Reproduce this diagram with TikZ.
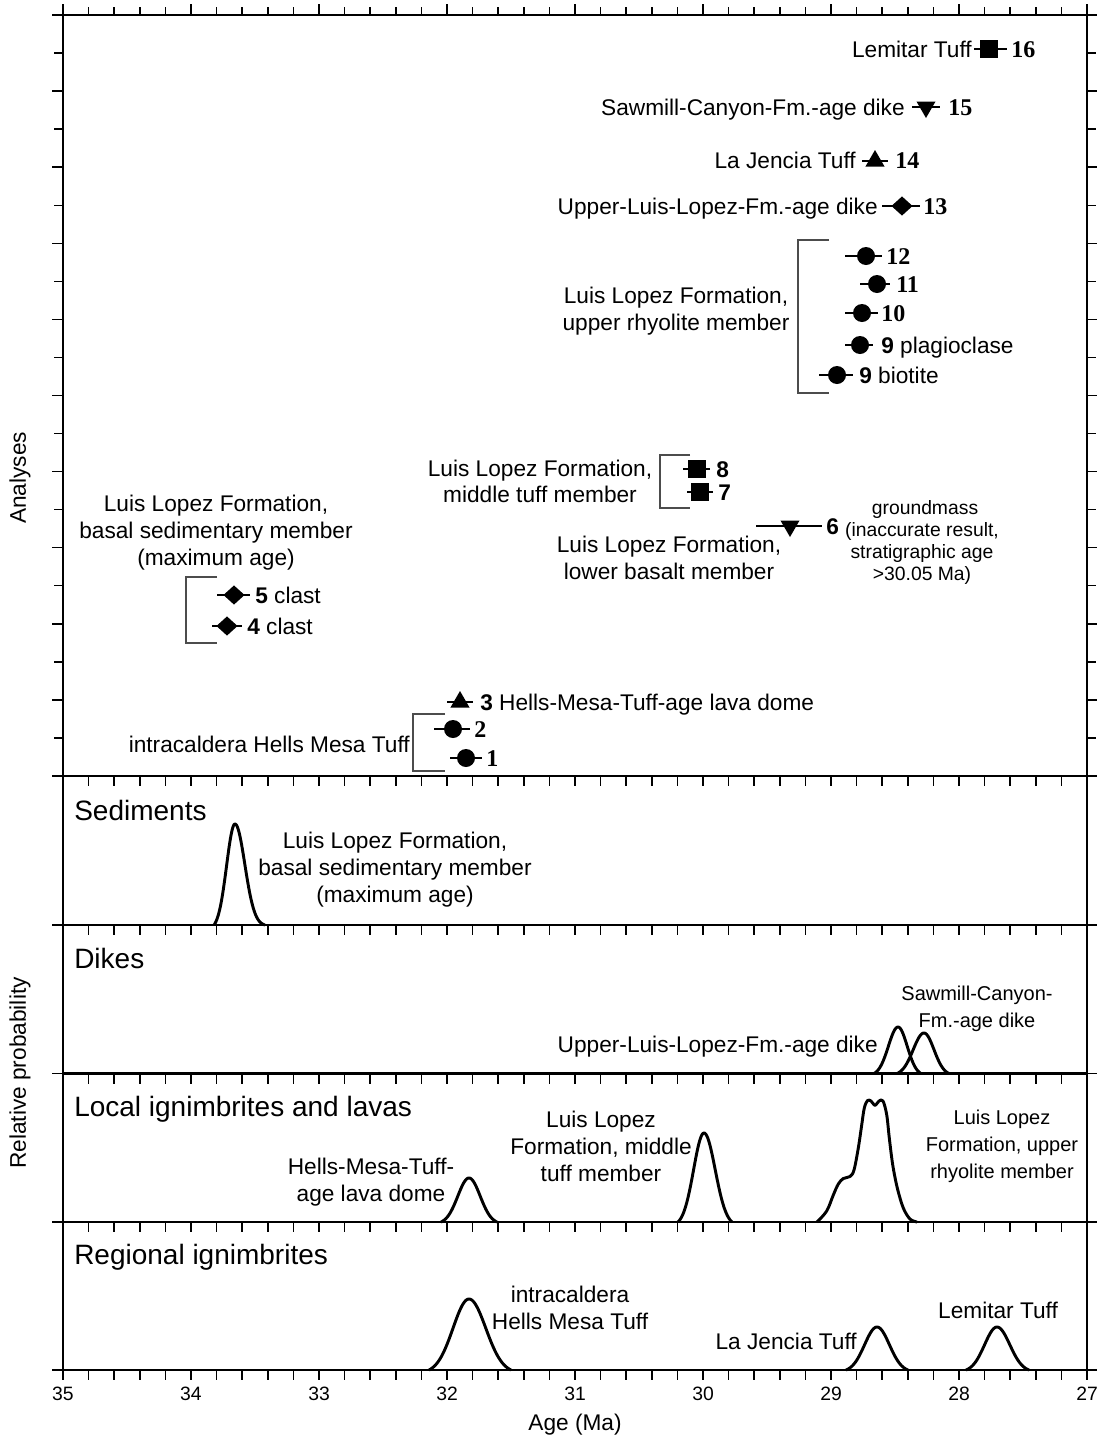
\documentclass[tikz,border=0pt]{standalone}
\usepackage{fontspec}
\setmainfont{Liberation Sans}
\newfontfamily\numserif{Liberation Serif}
\usetikzlibrary{shapes.geometric}
\newcommand{\datapt}[6]{% name, style, x, y, xlo, xhi
  \draw[ebar] (#5,#4) -- (#6,#4);
  \node[#2] (#1) at (#3,#4) {};}
\newcommand{\tgauss}[7]{% x0,h,xL,xR,sL,sR,base
  \draw[curve] plot[domain=#3:#1, samples=40] (\x,{#7-#2*(exp(-0.5*(\x-#1)*(\x-#1)/(#5*#5))-exp(-0.5*(#3-#1)*(#3-#1)/(#5*#5)))/(1-exp(-0.5*(#3-#1)*(#3-#1)/(#5*#5)))})
    -- plot[domain=#1:#4, samples=40] (\x,{#7-#2*(exp(-0.5*(\x-#1)*(\x-#1)/(#6*#6))-exp(-0.5*(#4-#1)*(#4-#1)/(#6*#6)))/(1-exp(-0.5*(#4-#1)*(#4-#1)/(#6*#6)))});}
\begin{document}
\begin{tikzpicture}[x=0.75pt,y=-0.75pt,
  lab/.style={font=\fontsize{17}{20.25}\selectfont, inner sep=0pt, align=center},
  slab/.style={font=\fontsize{15}{19.9}\selectfont, inner sep=0pt, align=center},
  note/.style={font=\fontsize{14.5}{16.2}\selectfont, inner sep=0pt, align=center},
  ttl/.style={font=\fontsize{21}{25}\selectfont, inner sep=0pt, anchor=base west},
  snum/.style={font=\numserif\bfseries\fontsize{18}{20}\selectfont, inner sep=0pt, anchor=base west},
  ticklab/.style={font=\fontsize{14.5}{17}\selectfont, inner sep=0pt, anchor=base},
  axlab/.style={font=\fontsize{17}{20}\selectfont, inner sep=0pt},
  tick/.style={line width=1.1pt},
  frame/.style={line width=1.9pt},
  ebar/.style={line width=2.2pt},
  curve/.style={line width=2.2pt, line join=round},
  brk/.style={line width=0.9pt, draw=black!70},
  dot/.style={circle, fill, inner sep=0pt, minimum size=13.5pt},
  sq/.style={rectangle, fill, inner sep=0pt, minimum size=12.8pt},
  tup/.style={regular polygon, regular polygon sides=3, fill, inner sep=0pt, minimum size=16.5pt},
  tdn/.style={regular polygon, regular polygon sides=3, shape border rotate=180, fill, inner sep=0pt, minimum size=16.5pt},
  dia/.style={diamond, fill, inner sep=0pt, minimum width=16pt, minimum height=14.5pt}
]
\useasboundingbox (0,0) rectangle (1096,1435);
\fill[white] (0,0) rectangle (1096,1435);

% ---------- ticks ----------
\foreach \k in {0,...,40}{
  \pgfmathsetmacro\xx{63+\k*25.6}
  \pgfmathtruncatemacro\mj{mod(\k,5)}
  \ifnum\mj=0 \draw[tick] (\xx,15) -- (\xx,4); \else \draw[tick] (\xx,15) -- (\xx,7); \fi
  \foreach \yb in {776,925,1073.5,1222,1370}{ \draw[tick] (\xx,\yb) -- (\xx,{\yb+10}); }
}
\foreach \k in {0,...,20}{
  \pgfmathsetmacro\yy{15+\k*38.05}
  \ifodd\k \def\tl{9}\else\def\tl{11}\fi
  \draw[tick] (63,\yy) -- ({63-\tl},\yy);
  \draw[tick] (1087,\yy) -- ({1087+\tl},\yy);
}
\foreach \yb in {925,1073.5,1222,1370}{
  \draw[tick] (63,\yb) -- (52,\yb);
  \draw[tick] (1087,\yb) -- (1098,\yb);
}
\foreach \a [count=\i from 0] in {35,34,...,27}{
  \node[ticklab] (t\a) at ({63+\i*128},1400) {\a};
}

% ---------- frame ----------
\draw[frame] (63,15) rectangle (1087,1370);
\foreach \yb in {776,925,1073.5,1222}{ \draw[frame] (63,\yb) -- (1087,\yb); }

% ---------- axis titles ----------
\node[axlab, anchor=base] (xt) at (575,1430) {Age (Ma)};
\node[axlab, rotate=90] (yt1) at (20,478) {Analyses};
\node[axlab, rotate=90] (yt2) at (20,1073) {Relative probability};

% ---------- Analyses panel ----------
\datapt{m16}{sq}{989}{49}{974}{1007}
\node[lab, anchor=base east] (l16) at (972,57) {Lemitar Tuff};
\node[snum] (n16) at (1011,57) {16};

\datapt{m15}{tdn}{926}{107}{912}{940}
\node[lab, anchor=base east] (l15) at (905,115) {Sawmill-Canyon-Fm.-age dike};
\node[snum] (n15) at (948,115) {15};

\datapt{m14}{tup}{875}{161}{862}{888}
\node[lab, anchor=base east] (l14) at (856,168) {La Jencia Tuff};
\node[snum] (n14) at (895,168) {14};

\datapt{m13}{dia}{902}{206}{882}{920}
\node[lab, anchor=base east] (l13) at (878,214) {Upper-Luis-Lopez-Fm.-age dike};
\node[snum] (n13) at (923,214) {13};

\datapt{m12}{dot}{866}{256}{845}{882}
\node[snum] (n12) at (886,264) {12};
\datapt{m11}{dot}{877}{284}{860}{890}
\node[snum] (n11) at (896,292) {11};
\datapt{m10}{dot}{862}{313}{845}{878}
\node[snum] (n10) at (881,321) {10};
\datapt{m9p}{dot}{860}{345}{845}{873}
\node[lab, anchor=base west] (n9p) at (881,353) {\textbf{9} plagioclase};
\datapt{m9b}{dot}{837}{375}{819}{853}
\node[lab, anchor=base west] (n9b) at (859,383) {\textbf{9} biotite};
\draw[brk] (829,240) -- (798,240) -- (798,393) -- (829,393);
\node[lab, anchor=base] (lur) at (676,330) {Luis Lopez Formation,\\upper rhyolite member};

\datapt{m8}{sq}{697}{469}{683}{710}
\node[lab, anchor=base west] (n8) at (716,477) {\textbf{8}};
\datapt{m7}{sq}{700}{492}{687}{713}
\node[lab, anchor=base west] (n7) at (718,500) {\textbf{7}};
\draw[brk] (690,455) -- (660,455) -- (660,508) -- (690,508);
\node[lab, anchor=base, font=\fontsize{17}{19.5}\selectfont] (lmt) at (540,502) {Luis Lopez Formation,\\middle tuff member};

\datapt{m6}{tdn}{790}{526}{756}{822}
\node[lab, anchor=base west] (n6) at (826,534) {\textbf{6}};
\node[note, anchor=base] (gm) at (925,514) {groundmass};
\node[note, anchor=base] (ir) at (922,580) {(inaccurate result,\\stratigraphic age\\{>}30.05 Ma)};
\node[lab, anchor=base] (llb) at (669,579) {Luis Lopez Formation,\\lower basalt member};

\datapt{m5}{dia}{234}{595}{217}{250}
\node[lab, anchor=base west] (n5) at (255,603) {\textbf{5} clast};
\datapt{m4}{dia}{227}{626}{212}{242}
\node[lab, anchor=base west] (n4) at (247,634) {\textbf{4} clast};
\draw[brk] (217,577) -- (186,577) -- (186,643) -- (217,643);
\node[lab, anchor=base] (lbs) at (216,565) {Luis Lopez Formation,\\basal sedimentary member\\(maximum age)};

\datapt{m3}{tup}{460}{702}{447}{473}
\node[lab, anchor=base west] (n3) at (480,710) {\textbf{3} Hells-Mesa-Tuff-age lava dome};
\datapt{m2}{dot}{453}{729}{434}{470}
\node[snum] (n2) at (474,737) {2};
\datapt{m1}{dot}{466}{758}{450}{482}
\node[snum] (n1) at (486,766) {1};
\draw[brk] (445,714) -- (413,714) -- (413,771) -- (445,771);
\node[lab, anchor=base east] (lih) at (410,752) {intracaldera Hells Mesa Tuff};

% ---------- Sediments ----------
\node[ttl] (p1) at (74,820) {Sediments};
\tgauss{235}{101}{214}{265}{8.4}{9.8}{925}
\node[lab, anchor=base] (s1) at (395,902) {Luis Lopez Formation,\\basal sedimentary member\\(maximum age)};

% ---------- Dikes ----------
\node[ttl] (p2) at (74,968) {Dikes};
\tgauss{898}{46.5}{874}{921}{9.6}{9.2}{1073.5}
\tgauss{924}{40.5}{897}{949}{10.8}{10}{1073.5}
\node[lab, anchor=base east] (d1) at (878,1052) {Upper-Luis-Lopez-Fm.-age dike};
\node[slab, anchor=base] (d2) at (977,1027) {Sawmill-Canyon-\\Fm.-age dike};

% ---------- Local ----------
\node[ttl] (p3) at (74,1116) {Local ignimbrites and lavas};
\tgauss{469}{44}{441}{497}{11.2}{11.2}{1222}
\tgauss{704}{89}{678}{732}{10.4}{11.2}{1222}
\draw[curve] plot[smooth, tension=0.55] coordinates {(817,1222) (826.7,1211) (833.3,1195) (838.3,1184) (843.3,1178.5) (850,1176.5) (854,1170) (858.3,1148) (861.7,1125) (864.3,1108) (867.5,1100.5) (871,1101) (875,1105.3) (879,1101) (883,1101) (886.7,1114.7) (889.3,1138) (892.7,1164.7) (897.3,1188) (903.3,1208) (910,1219) (917,1222)};
\node[lab, anchor=base] (c1) at (371,1201) {Hells-Mesa-Tuff-\\age lava dome};
\node[lab, anchor=base] (c2) at (601,1181) {Luis Lopez\\Formation, middle\\tuff member};
\node[slab, anchor=base] (c3) at (1002,1178) {Luis Lopez\\Formation, upper\\rhyolite member};

% ---------- Regional ----------
\node[ttl] (p4) at (74,1264) {Regional ignimbrites};
\tgauss{469}{71}{429}{511}{16}{16.8}{1370}
\tgauss{877}{43}{846}{908}{12.4}{12.4}{1370}
\tgauss{997}{43}{966}{1029}{12.4}{12.8}{1370}
\node[lab, anchor=base] (r1) at (570,1329) {intracaldera\\Hells Mesa Tuff};
\node[lab, anchor=base east] (r2) at (857,1349) {La Jencia Tuff};
\node[lab, anchor=base] (r3) at (998,1318) {Lemitar Tuff};
\end{tikzpicture}
\end{document}
